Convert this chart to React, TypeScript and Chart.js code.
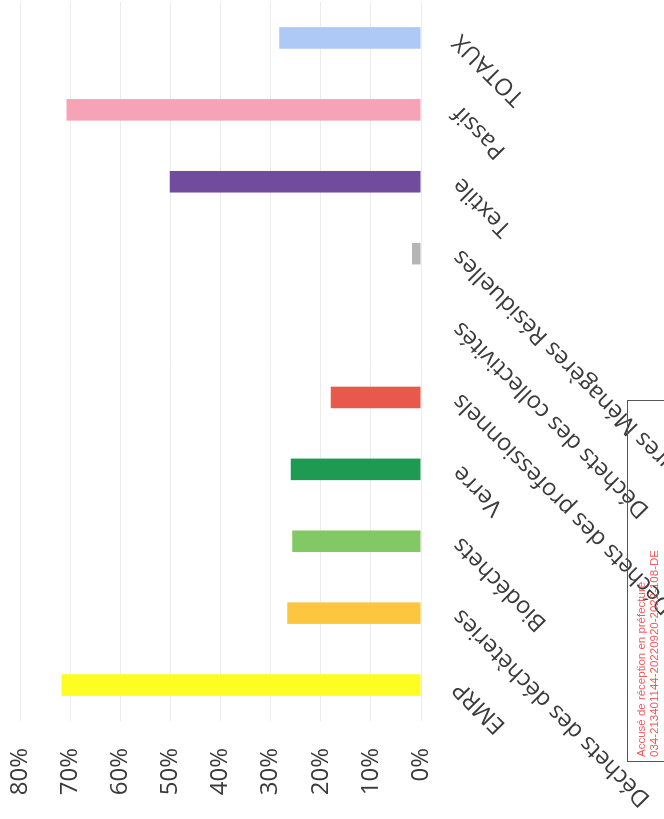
import React, { useEffect, useRef } from "react";
import { Chart, registerables } from "chart.js";

Chart.register(...registerables);

const categories = [
  "EMRP",
  "Déchets des déchèteries",
  "Biodéchets",
  "Verre",
  "Déchets des professionnels",
  "Déchets des collectivités",
  "Ordures Ménagères Résiduelles",
  "Textile",
  "Passif",
  "TOTAUX",
];
const values = [0.717, 0.267, 0.257, 0.26, 0.18, 0, 0.018, 0.501, 0.707, 0.283];
const barColors = [
  "#fdfd22",
  "#fcc63e",
  "#82c865",
  "#1f9a52",
  "#e8584b",
  "#cccccc",
  "#b5b5b5",
  "#714c9e",
  "#f7a3b7",
  "#aec9f6",
];
const valueMin = 0;
const valueMax = 0.8;
const valueStep = 0.1;
const stampLines = [
  "Accusé de réception en préfecture",
  "034-213401144-20220920-2022-108-DE",
];

export default function App() {
  const ref = useRef<HTMLCanvasElement | null>(null);

  useEffect(() => {
    if (!ref.current) return;
    Chart.defaults.font.family = "'Open Sans', 'Liberation Sans', sans-serif";
    const chart = new Chart(ref.current, {
      type: "bar",
      data: {
        labels: categories,
        datasets: [
          {
            data: values,
            backgroundColor: barColors,
            borderWidth: 0,
            barPercentage: 0.3,
            categoryPercentage: 1,
          },
        ],
      },
      options: {
        animation: false,
        responsive: false,
        maintainAspectRatio: false,
        layout: { padding: { top: 20, right: 2, left: 0, bottom: 0 } },
        plugins: { legend: { display: false }, tooltip: { enabled: false } },
        scales: {
          x: {
            grid: {
              display: true,
              drawOnChartArea: false,
              drawTicks: true,
              tickLength: 26,
              color: "rgba(0,0,0,0)",
              tickColor: "rgba(0,0,0,0)",
            },
            border: { display: false },
            ticks: {
              autoSkip: false,
              minRotation: 45,
              maxRotation: 45,
              padding: 0,
              color: "#3a3a3a",
              font: { size: 23.5 },
            },
            afterFit: (scale: any) => {
              scale.height = 243;
            },
          },
          y: {
            min: valueMin,
            max: valueMax,
            grid: {
              color: "#ececec",
              lineWidth: 1,
              drawTicks: true,
              tickLength: 27,
              tickColor: "rgba(0,0,0,0)",
            },
            border: { display: false },
            ticks: {
              stepSize: valueStep,
              padding: 0,
              color: "#3a3a3a",
              font: { size: 24 },
              callback: (v: any) => Math.round(Number(v) * 100) + "%",
            },
            afterFit: (scale: any) => {
              scale.width = 98;
            },
          },
        },
      },
    });
    return () => chart.destroy();
  }, []);

  return (
    <div
      style={{
        position: "absolute",
        left: 0,
        top: 0,
        width: 664,
        height: 819,
        overflow: "hidden",
        background: "#ffffff",
      }}
    >
      <div
        style={{
          position: "absolute",
          left: 0,
          top: 0,
          width: 819,
          height: 664,
          transformOrigin: "0 0",
          transform: "translate(0px, 819px) rotate(-90deg)",
        }}
      >
        <canvas
          ref={ref}
          width={819}
          height={664}
          style={{ position: "absolute", left: 0, top: 0, width: 819, height: 664 }}
        />
        <div
          style={{
            position: "absolute",
            left: 57,
            top: 627,
            width: 362,
            height: 80,
            border: "1.5px solid #555555",
            boxSizing: "border-box",
            background: "transparent",
            fontFamily: "'Liberation Sans', Arial, sans-serif",
            fontSize: 11.5,
            lineHeight: "13px",
            color: "#f05a5a",
            padding: "7px 0 0 4px",
          }}
        >
          {stampLines.map((t) => (
            <div key={t} style={{ whiteSpace: "nowrap" }}>
              {t}
            </div>
          ))}
        </div>
      </div>
    </div>
  );
}
